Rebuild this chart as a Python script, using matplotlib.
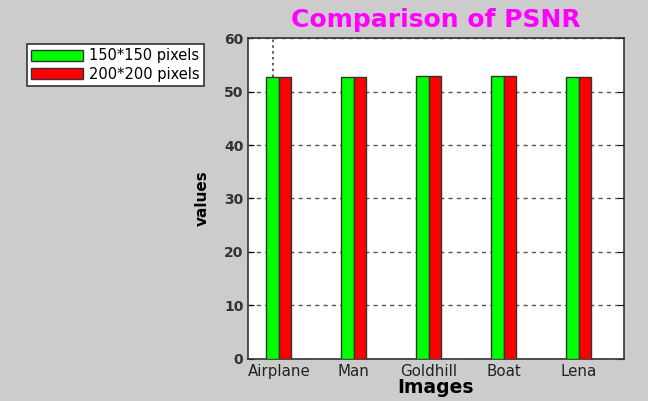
import numpy as np
import matplotlib.pyplot as plt

images = ['Airplane', 'Man', 'Goldhill', 'Boat', 'Lena']
psnr_150 = [52.65, 52.65, 52.9, 52.9, 52.65]
psnr_200 = [52.65, 52.65, 52.9, 52.9, 52.65]
labels = ['150*150 pixels', '200*200 pixels']

bg = '#cccccc'
fig = plt.figure(figsize=(6.48, 4.01), dpi=100, facecolor=bg)
ax = fig.add_axes([0.382, 0.105, 0.5814, 0.80])

x = np.arange(1, len(images) + 1)
w = 0.167
b1 = ax.bar(x - w / 2, psnr_150, w, color='#00ff00', edgecolor='#333333', linewidth=1, label=labels[0], zorder=3)
b2 = ax.bar(x + w / 2, psnr_200, w, color='#ff0000', edgecolor='#333333', linewidth=1, label=labels[1], zorder=3)

# dotted guide above first bar
ax.vlines(x[0] - w / 2, psnr_150[0], 60, colors='#444444', linestyles=(0, (1.5, 2)), linewidth=1.2, zorder=2)

ax.set_xlim(0.583, 5.605)
ax.set_ylim(0, 60)
ax.set_yticks(range(0, 61, 10))
ax.set_xticks(x)
ax.set_xticklabels(images, fontsize=10.8, color='#222222')
for t in ax.get_yticklabels():
    t.set_fontweight('bold')
    t.set_fontsize(10)
    t.set_color('#333333')
ax.tick_params(axis='both', direction='in', length=4, right=True, top=False, pad=3)
ax.tick_params(axis='x', length=0, pad=4)
ax.yaxis.grid(True, linestyle=(0, (3, 3)), color='#555555', linewidth=1, zorder=0)
for s in ax.spines.values():
    s.set_color('#333333')
    s.set_linewidth(1.2)

ax.set_xlabel('Images', fontsize=13.5, fontweight='bold', labelpad=-1)
ax.set_ylabel('values', fontsize=11, fontweight='bold', labelpad=10)
ax.set_title('Comparison of PSNR', fontsize=18, fontweight='bold', color='#ff00ff', pad=8)

leg = fig.legend(handles=[b1, b2], labels=labels, loc='upper left',
                 bbox_to_anchor=(0.041, 0.89), borderaxespad=0, fontsize=10.5,
                 frameon=True, fancybox=False, edgecolor='#333333', framealpha=1,
                 handlelength=3.6, handleheight=0.85, borderpad=0.3,
                 labelspacing=0.22, handletextpad=0.4)
leg.get_frame().set_linewidth(1.2)

fig.savefig('out.png', dpi=100, facecolor=bg)
